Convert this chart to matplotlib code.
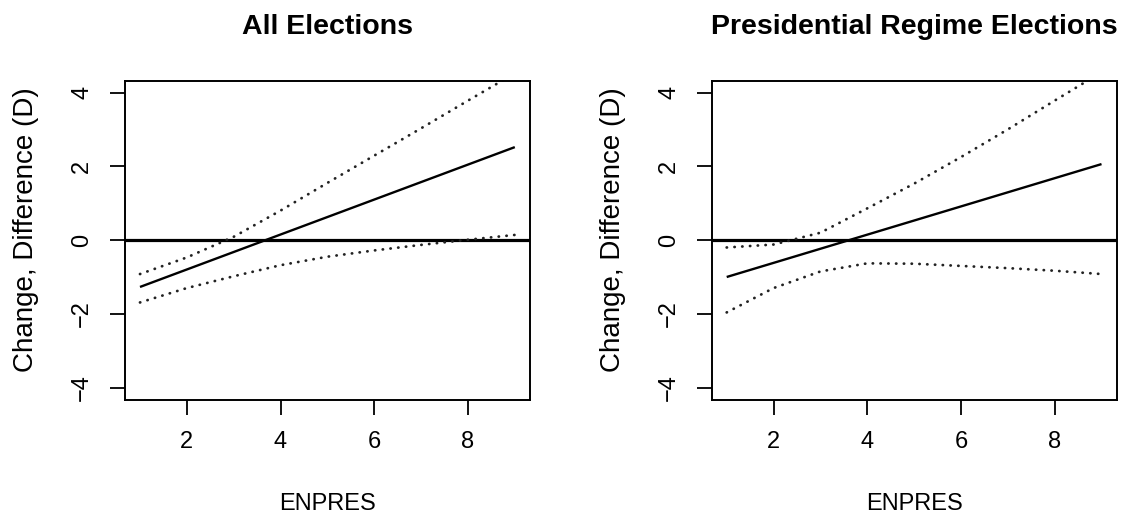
import matplotlib
matplotlib.use("Agg")
import matplotlib.pyplot as plt

plt.rcParams['font.family'] = ['Liberation Sans', 'DejaVu Sans']

# ---- data ----
enpres = [1, 2, 3, 4, 5, 6, 7, 8, 9]
est_x = [1, 9]

all_est = [-1.27, 2.52]
all_upper = [-0.92, -0.47, 0.09, 0.80, 1.55, 2.29, 3.03, 3.78, 4.52]
all_lower = [-1.69, -1.30, -0.98, -0.68, -0.45, -0.28, -0.13, 0.01, 0.14]

pres_est = [-1.00, 2.06]
pres_upper = [-0.20, -0.12, 0.20, 0.86, 1.53, 2.25, 3.00, 3.78, 4.55]
pres_lower = [-1.96, -1.30, -0.85, -0.63, -0.64, -0.70, -0.76, -0.83, -0.92]

titles = ["All Elections", "Presidential Regime Elections"]
xlabel = "ENPRES"
ylabel = "Change, Difference (D)"
xticks = [2, 4, 6, 8]
yticks = [-4, -2, 0, 2, 4]

W, H = 1124, 518
fig = plt.figure(figsize=(W / 100, H / 100), dpi=100)

ax_left_px = [125, 711.7]
ax_w_px = 404.8
ax_top_px = 80.7
ax_h_px = 318.8

panels = [(all_est, all_upper, all_lower), (pres_est, pres_upper, pres_lower)]
dotted = (0, (0.1, 2.7))

for i, (est, up, lo) in enumerate(panels):
    l = ax_left_px[i]
    ax = fig.add_axes([l / W, (H - ax_top_px - ax_h_px) / H, ax_w_px / W, ax_h_px / H])
    ax.set_xlim(0.68, 9.32)
    ax.set_ylim(-4.32, 4.32)
    ax.axhline(0, color='black', lw=2.3)
    ax.plot(est_x, est, color='black', lw=1.7, solid_capstyle='butt')
    ax.plot(enpres, up, color='#222222', lw=2.0, linestyle=dotted, dash_capstyle='round')
    ax.plot(enpres, lo, color='#222222', lw=2.0, linestyle=dotted, dash_capstyle='round')
    for s in ax.spines.values():
        s.set_linewidth(1.4)
    ax.set_xticks(xticks)
    ax.set_yticks(yticks)
    ax.set_xticklabels([str(t) for t in xticks])
    ax.set_yticklabels([str(t).replace('-', '\u2212') for t in yticks], rotation=90, va='center')
    ax.tick_params(direction='out', length=10.8, width=1.3, labelsize=17, pad=12)

    cx = (l + ax_w_px / 2) / W
    fig.text(cx, (H - 34) / H, titles[i], ha='center', va='baseline',
             fontsize=20.5, fontweight='bold')
    fig.text(cx, (H - 510) / H, xlabel, ha='center', va='baseline', fontsize=17)
    fig.text((l - 92) / W, (H - 230) / H, ylabel, rotation=90, rotation_mode='anchor',
             ha='center', va='baseline', fontsize=20)

fig.savefig("out.png", dpi=100)
